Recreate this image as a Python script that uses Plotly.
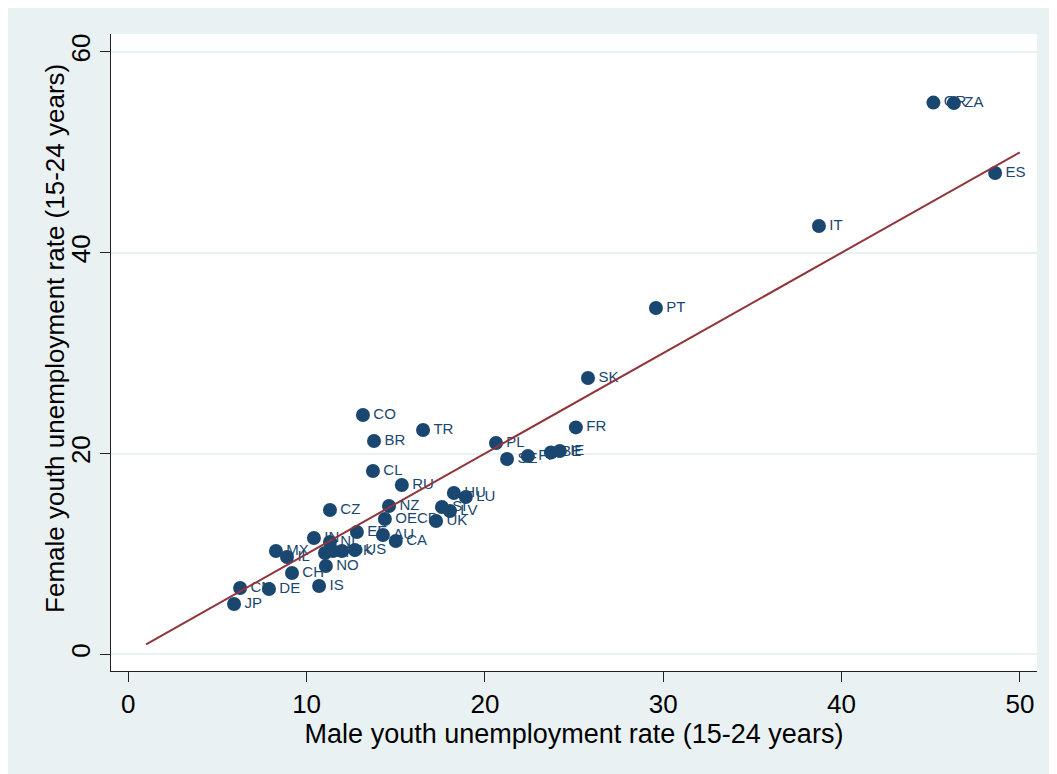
import plotly.graph_objects as go

# ---- data ----
countries = ["JP", "CN", "DE", "CH", "IS", "MX", "IL", "IN", "NL", "NO", "KR", "AT", "DK",
             "US", "EE", "AU", "CA", "CZ", "NZ", "OECD", "UK", "RU", "CL", "BR", "CO", "TR",
             "HU", "LU", "SI", "LV", "PL", "SE", "FI", "BE", "IE", "FR", "SK", "PT", "IT",
             "ES", "GR", "ZA"]
male = [5.93, 6.27, 7.89, 9.18, 10.70, 8.28, 8.90, 10.41, 11.31, 11.08, 11.03, 11.48, 11.98,
        12.71, 12.82, 14.28, 15.00, 11.31, 14.62, 14.39, 17.26, 15.34, 13.72, 13.78, 13.16, 16.53,
        18.26, 18.93, 17.59, 18.04, 20.62, 21.24, 22.41, 23.70, 24.20, 25.10, 25.78, 29.59, 38.73,
        48.61, 45.15, 46.30]
female = [5.01, 6.60, 6.50, 8.10, 6.80, 10.29, 9.69, 11.58, 11.19, 8.79, 10.09, 10.29, 10.29,
          10.39, 12.18, 11.88, 11.28, 14.37, 14.77, 13.48, 13.28, 16.86, 18.26, 21.24, 23.84, 22.34,
          16.07, 15.67, 14.67, 14.27, 21.05, 19.45, 19.75, 20.10, 20.25, 22.60, 27.52, 34.49, 42.66,
          47.94, 54.95, 54.90]
fit_x = [1, 50]
fit_y = [1, 50]
x_ticks = [0, 10, 20, 30, 40, 50]
y_ticks = [0, 20, 40, 60]

navy = "#1a476f"
maroon = "#90353b"
bg = "#eaf1f3"
FONT = "Liberation Sans, Arial, sans-serif"

fig = go.Figure()
# labels first (so markers cover them, as in the reference)
fig.add_trace(go.Scatter(
    x=male, y=female, text=countries, mode="markers+text",
    textposition="middle right",
    textfont=dict(family=FONT, size=15, color=navy),
    marker=dict(size=15, color=navy, opacity=0),
    hoverinfo="skip", showlegend=False))
fig.add_trace(go.Scatter(
    x=male, y=female, mode="markers",
    marker=dict(size=14, color=navy, line=dict(width=0)),
    showlegend=False))
fig.add_trace(go.Scatter(
    x=fit_x, y=fit_y, mode="lines",
    line=dict(color=maroon, width=2),
    showlegend=False))

fig.update_layout(
    width=1057, height=774,
    margin=dict(l=103, r=28, t=26, b=111),
    paper_bgcolor=bg,
    plot_bgcolor="white",
    font=dict(family=FONT, color="black"),
    annotations=[dict(
        text="Female youth unemployment rate (15-24 years)",
        xref="paper", yref="paper", x=-0.0605, y=0.5228,
        xanchor="center", yanchor="middle", textangle=-90, showarrow=False,
        font=dict(size=26, family=FONT, color="black"))],
    xaxis=dict(
        range=[-0.97, 50.96], tickmode="array", tickvals=x_ticks,
        showgrid=False, zeroline=False,
        showline=True, linecolor="#222222", linewidth=1,
        ticks="outside", ticklen=10, tickcolor="#222222", tickwidth=1,
        tickfont=dict(size=26, family=FONT, color="black"),
        title=dict(text="Male youth unemployment rate (15-24 years)",
                   font=dict(size=27, family=FONT, color="black"), standoff=2),
    ),
    yaxis=dict(
        range=[-1.66, 61.78], tickmode="array", tickvals=y_ticks,
        showgrid=True, gridcolor=bg, gridwidth=2, zeroline=False,
        showline=True, linecolor="#222222", linewidth=1,
        ticks="outside", ticklen=10, tickcolor="#222222", tickwidth=1,
        tickangle=-90,
        tickfont=dict(size=26, family=FONT, color="black"),
    ),
)

fig.write_html("out.html")
